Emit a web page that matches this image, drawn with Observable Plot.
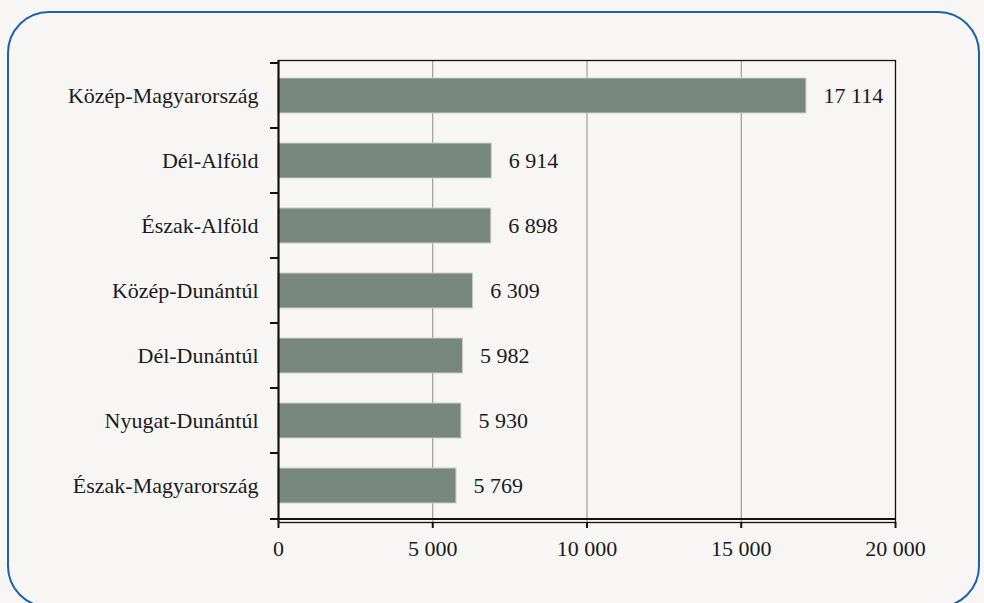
<!DOCTYPE html>
<html>
<head>
<meta charset="utf-8">
<script src="https://cdn.jsdelivr.net/npm/d3@7"></script>
<script src="https://cdn.jsdelivr.net/npm/@observablehq/plot@0.6"></script>
<style>
  html, body { margin: 0; padding: 0; background: #F7F6F5; width: 984px; height: 603px; overflow: hidden; }
  #box { position: absolute; left: 7px; top: 11px; width: 973px; height: 597px; box-sizing: border-box;
         border: 2px solid #1A62AA; border-radius: 42px; }
  #chart { position: absolute; left: 0; top: 0; }
</style>
</head>
<body>
<div id="box"></div>
<div id="chart"></div>
<script>
const regions = ["Közép-Magyarország", "Dél-Alföld", "Észak-Alföld", "Közép-Dunántúl", "Dél-Dunántúl", "Nyugat-Dunántúl", "Észak-Magyarország"];
const values = [17114, 6914, 6898, 6309, 5982, 5930, 5769];
const xTicks = [0, 5000, 10000, 15000, 20000];
const gridTicks = [5000, 10000, 15000];

const data = regions.map((r, i) => ({region: r, value: values[i]}));
const loc = d3.formatLocale({thousands: "\u00a0", grouping: [3], decimal: ","});
const fmt = loc.format(",");

const W = 984, H = 603;
const mL = 278, mR = 89, mT = 60, mB = 81;
const step = (H - mT - mB) / regions.length;
const font = "'Liberation Serif', 'DejaVu Serif', serif";
const fs = 22;

const chart = Plot.plot({
  width: W, height: H,
  marginLeft: mL, marginRight: mR, marginTop: mT, marginBottom: mB,
  style: {background: "transparent", fontFamily: font, fontSize: fs + "px", color: "#1a1a1a"},
  x: {domain: [0, 20000], axis: null},
  y: {domain: regions, paddingInner: 0.4545, paddingOuter: 0.2273, axis: null},
  marks: [
    Plot.ruleX(gridTicks, {stroke: "#8a8a8a", strokeWidth: 1}),
    Plot.barX(data, {x: "value", y: "region", fill: "#77877F", stroke: "#C9D0CC", strokeWidth: 1}),
    Plot.frame({stroke: "#111", strokeWidth: 1.3}),
    Plot.ruleX([0], {stroke: "#111", strokeWidth: 2}),
    Plot.ruleY([regions[regions.length - 1]], {y: d => d, dy: step / 2, stroke: "#111", strokeWidth: 2}),
    // y boundary ticks
    Plot.ruleY(regions, {y: d => d, x1: -260, x2: 0, dy: -step / 2, stroke: "#111", strokeWidth: 2}),
    Plot.ruleY([regions[regions.length - 1]], {y: d => d, x1: -260, x2: 0, dy: step / 2, stroke: "#111", strokeWidth: 2}),
    Plot.axisX({ticks: xTicks, tickSize: 6, tickPadding: 12, tickFormat: fmt, fontSize: fs, strokeWidth: 2, stroke: "#111", fill: "#1a1a1a", label: null}),
    Plot.axisY({tickSize: 0, tickPadding: 20, fontSize: fs, fill: "#1a1a1a", label: null}),
    Plot.text(data, {x: "value", y: "region", text: d => fmt(d.value), textAnchor: "start", dx: 17, fontSize: fs, fill: "#1a1a1a"})
  ]
});
document.getElementById("chart").appendChild(chart);
</script>
</body>
</html>
